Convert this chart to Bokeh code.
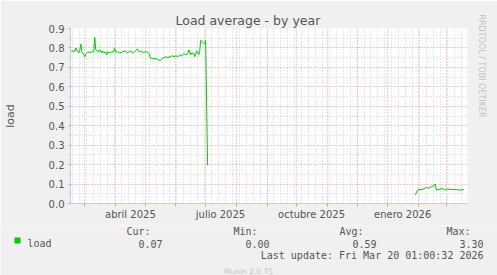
import pandas as pd
from bokeh.plotting import figure
from bokeh.layouts import column
from bokeh.models import FixedTicker, NumeralTickFormatter, Range1d, Title
from bokeh.core.properties import value
from bokeh.embed import file_html
from bokeh.resources import INLINE

# ---------------- data ----------------
dates = [
    "2025-02-14", "2025-02-16", "2025-02-18", "2025-02-20", "2025-02-21", "2025-02-23",
    "2025-02-24", "2025-02-25", "2025-02-26", "2025-02-28", "2025-03-01", "2025-03-02",
    "2025-03-04", "2025-03-06", "2025-03-08", "2025-03-10", "2025-03-11", "2025-03-12",
    "2025-03-14", "2025-03-15", "2025-03-16", "2025-03-18", "2025-03-19", "2025-03-20",
    "2025-03-22", "2025-03-23", "2025-03-24", "2025-03-26", "2025-03-28", "2025-03-30",
    "2025-03-31", "2025-04-01", "2025-04-03", "2025-04-05", "2025-04-08", "2025-04-11",
    "2025-04-13", "2025-04-16", "2025-04-19", "2025-04-21", "2025-04-23", "2025-04-25",
    "2025-04-27", "2025-04-29", "2025-05-01", "2025-05-03", "2025-05-05", "2025-05-06",
    "2025-05-08", "2025-05-10", "2025-05-12", "2025-05-14", "2025-05-16", "2025-05-18",
    "2025-05-20", "2025-05-22", "2025-05-24", "2025-05-26", "2025-05-28", "2025-05-30",
    "2025-06-01", "2025-06-03", "2025-06-05", "2025-06-07", "2025-06-09", "2025-06-11",
    "2025-06-13", "2025-06-14", "2025-06-16", "2025-06-17", "2025-06-19", "2025-06-20",
    "2025-06-22", "2025-06-24", "2025-06-25", "2025-06-26", "2025-06-28", "2025-06-29",
    "2025-06-30", "2025-07-01", "2025-07-03",
    "2025-10-01",
    "2026-01-29", "2026-01-30", "2026-02-01", "2026-02-05", "2026-02-09", "2026-02-11",
    "2026-02-14", "2026-02-16", "2026-02-18", "2026-02-19", "2026-02-22", "2026-02-25",
    "2026-02-28", "2026-03-02", "2026-03-06", "2026-03-11", "2026-03-15", "2026-03-19",
]
load = [
    0.780, 0.785, 0.780, 0.800, 0.785, 0.775,
    0.790, 0.820, 0.780, 0.765, 0.755, 0.770,
    0.780, 0.775, 0.780, 0.780, 0.855, 0.790,
    0.785, 0.780, 0.790, 0.775, 0.785, 0.775,
    0.780, 0.765, 0.780, 0.775, 0.780, 0.780,
    0.800, 0.780, 0.780, 0.775, 0.780, 0.785,
    0.775, 0.785, 0.775, 0.785, 0.795, 0.780,
    0.785, 0.775, 0.780, 0.780, 0.770, 0.750,
    0.745, 0.745, 0.745, 0.740, 0.735, 0.745,
    0.750, 0.755, 0.750, 0.755, 0.760, 0.755,
    0.760, 0.755, 0.765, 0.760, 0.770, 0.765,
    0.770, 0.790, 0.765, 0.775, 0.770, 0.755,
    0.785, 0.765, 0.780, 0.840, 0.830, 0.825,
    0.820, 0.840, 0.197,
    float("nan"),
    0.043, 0.060, 0.072, 0.072, 0.083, 0.078,
    0.086, 0.091, 0.100, 0.069, 0.072, 0.078,
    0.069, 0.074, 0.072, 0.072, 0.069, 0.072,
]

x_label_dates = ["2025-04-16", "2025-07-16", "2025-10-16", "2026-01-16"]
x_labels = ["abril 2025", "julio 2025", "octubre 2025", "enero 2026"]
y_ticks = [0.0, 0.1, 0.2, 0.3, 0.4, 0.5, 0.6, 0.7, 0.8, 0.9]
y_minor = [0.05, 0.15, 0.25, 0.35, 0.45, 0.55, 0.65, 0.75, 0.85]

stat_names = ["Cur:", "Min:", "Avg:", "Max:"]
stat_values = ["0.07", "0.00", "0.59", "3.30"]
series_name = "load"
y_label = "load"
title_text = "Load average - by year"
side_text = "RRDTOOL / TOBI OETIKER"
last_update = "Last update: Fri Mar 20 01:00:32 2026"
footer = "Munin 2.0.75"

# ---------------- helpers ----------------
base = pd.Timestamp("2025-02-14")


def day(s):
    return (pd.Timestamp(s) - base) / pd.Timedelta(days=1)


xs = [day(d) for d in dates]
label_days = [day(d) for d in x_label_dates]
month_days = [day(d) for d in pd.date_range("2025-03-01", "2026-03-01", freq="MS")]
week_days = [day(d) for d in pd.date_range("2025-02-17", "2026-03-23", freq="7D")]

TEXT = "#555555"
FONT = "DejaVu Sans"
MONO = "DejaVu Sans Mono"
BG = "#F0F0F0"
MAJ = "#E89A9A"
MIN = "#CFCFCF"

# ---------------- main chart ----------------
p = figure(width=497, height=225, output_backend="svg", toolbar_location=None,
           title=title_text,
           x_range=Range1d(0.5, 401.5), y_range=Range1d(0, 0.9),
           min_border_left=67, min_border_right=29, min_border_top=28,
           min_border_bottom=22)
p.frame_align = False
p.background_fill_color = "white"
p.border_fill_color = BG
p.outline_line_color = None

p.title.align = "left"
p.title.offset = 105
p.title.standoff = 1
p.title.text_font = FONT
p.title.text_font_size = "12.5px"
p.title.text_font_style = "normal"
p.title.text_color = TEXT

p.add_layout(Title(text=side_text, align="left", offset=-14, text_font=FONT,
                   text_font_size="8px", text_font_style="normal",
                   text_color="#C2C2C2", standoff=19), "right")

# grids
p.xgrid.ticker = FixedTicker(ticks=month_days, minor_ticks=week_days)
p.ygrid.ticker = FixedTicker(ticks=y_ticks, minor_ticks=y_minor)
for g in (p.xgrid, p.ygrid):
    g.grid_line_color = MAJ
    g.grid_line_dash = "1 2"
    g.grid_line_width = 1
    g.minor_grid_line_color = MIN
    g.minor_grid_line_dash = "1 2"

# axes
p.xaxis.ticker = FixedTicker(ticks=label_days, minor_ticks=month_days)
p.xaxis.major_label_overrides = {d: t for d, t in zip(label_days, x_labels)}
p.yaxis.ticker = FixedTicker(ticks=y_ticks, minor_ticks=y_minor)
p.yaxis.formatter = NumeralTickFormatter(format="0.0")
for ax in (p.xaxis, p.yaxis):
    ax.axis_line_color = "#C8C8F4"
    ax.major_tick_in = 0
    ax.minor_tick_in = 0
    ax.major_label_text_font = FONT
    ax.major_label_text_font_size = "10px"
    ax.major_label_text_color = TEXT

p.xaxis.major_tick_line_color = None
p.xaxis.major_tick_out = 0
p.xaxis.minor_tick_line_color = MAJ
p.xaxis.minor_tick_out = 3
p.xaxis.major_label_standoff = 2

p.yaxis.major_tick_line_color = MAJ
p.yaxis.major_tick_out = 2
p.yaxis.minor_tick_line_color = MIN
p.yaxis.minor_tick_out = 2
p.yaxis.major_label_standoff = 4
p.yaxis.axis_label = y_label
p.yaxis.axis_label_text_font = FONT
p.yaxis.axis_label_text_font_size = "11px"
p.yaxis.axis_label_text_font_style = "normal"
p.yaxis.axis_label_text_color = TEXT
p.yaxis.axis_label_standoff = 29

# data line
p.line(xs, load, line_color="#00CC00", line_width=1)

# ---------------- legend strip ----------------
q = figure(width=497, height=50, output_backend="svg", toolbar_location=None,
           x_range=Range1d(0, 497), y_range=Range1d(275, 225),
           x_axis_type=None, y_axis_type=None, min_border=0)
q.frame_align = False
q.background_fill_color = BG
q.border_fill_color = BG
q.outline_line_color = None

name_right = [150, 257, 363, 470]
value_right = [162, 269, 376, 483]
mono = dict(text_font=value(MONO), text_font_size="10px", text_color=TEXT,
            text_baseline="alphabetic")

q.quad(left=[14], right=[20], top=[237], bottom=[243], fill_color="#00CC00", line_color=None)
q.text(x=[27], y=[243], text=[series_name], text_align="left", **mono)
q.text(x=name_right, y=[231] * 4, text=stat_names, text_align="right", **mono)
q.text(x=value_right, y=[243] * 4, text=stat_values, text_align="right", **mono)
q.text(x=[483], y=[255], text=[last_update], text_align="right", **mono)
q.text(x=[248], y=[270.5], text=[footer], text_align="center", text_baseline="middle",
       text_font=value(FONT), text_font_size="7.5px", text_color="#C4C4C4")

layout = column(p, q, spacing=0)
open("out.html", "w").write(file_html(layout, INLINE))
